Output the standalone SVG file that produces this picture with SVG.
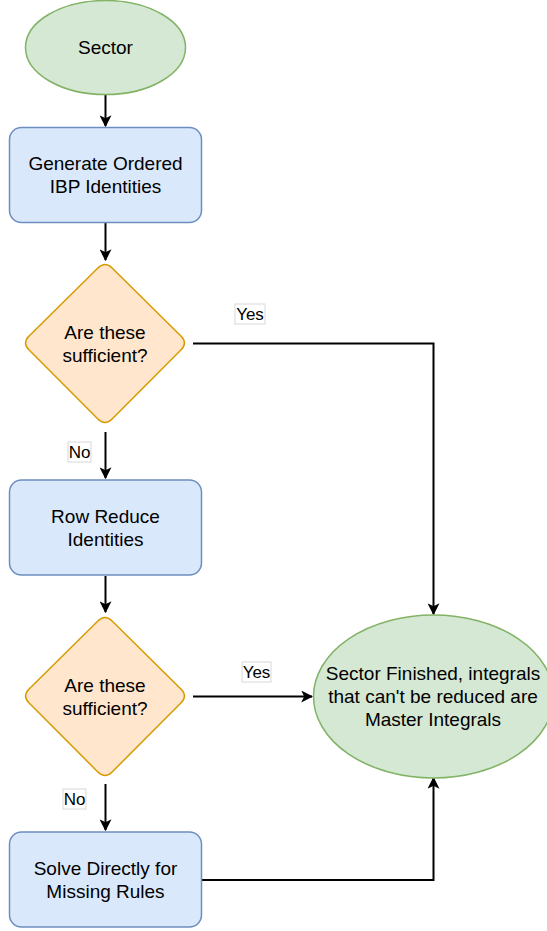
<svg xmlns="http://www.w3.org/2000/svg" width="547" height="931" viewBox="0 0 547 931">
<style>
text{font-family:"Liberation Sans",Helvetica,Arial,sans-serif;fill:#000;text-anchor:middle}
.t{font-size:19px}
.l{font-size:17px}
.green{fill:#d5e8d4;stroke:#82b366;stroke-width:1.5}
.blue{fill:#dae8fc;stroke:#6c8ebf;stroke-width:1.5}
.orange{fill:#ffe6cc;stroke:#d79b00;stroke-width:1.5}
.c{fill:none;stroke:#000;stroke-width:2}
.lb{fill:#fff;stroke:#d8d8d8;stroke-width:1}
</style>
<defs>
<marker id="ah" viewBox="0 0 10 10" refX="9" refY="5" markerWidth="6" markerHeight="6" markerUnits="strokeWidth" orient="auto">
<path d="M0,0 L10,5 L0,10 L2.5,5 Z" fill="#000"/>
</marker>
</defs>
<g id="connectors">
<path class="c" d="M105.5,95 V126" marker-end="url(#ah)"/>
<path class="c" d="M105.5,223 V260" marker-end="url(#ah)"/>
<path class="c" d="M105.5,432 V478" marker-end="url(#ah)"/>
<path class="c" d="M105.5,576 V612" marker-end="url(#ah)"/>
<path class="c" d="M105.5,784 V830" marker-end="url(#ah)"/>
<path class="c" d="M193,343.5 H433.5 V614" marker-end="url(#ah)"/>
<path class="c" d="M193,696.5 H312" marker-end="url(#ah)"/>
<path class="c" d="M202,880 H433.5 V778" marker-end="url(#ah)"/>
<g id="label-yes1"><rect class="lb" x="235" y="304" width="30" height="20"/><text class="l" x="250" y="320">Yes</text></g>
<g id="label-no1"><rect class="lb" x="68" y="442" width="23" height="20"/><text class="l" x="79.5" y="458">No</text></g>
<g id="label-yes2"><rect class="lb" x="242" y="662" width="29" height="20"/><text class="l" x="256.5" y="678">Yes</text></g>
<g id="label-no2"><rect class="lb" x="63" y="789" width="23" height="20"/><text class="l" x="74.5" y="805">No</text></g>
</g>
<g id="sector">
<ellipse class="green" cx="105.5" cy="47.5" rx="80" ry="47"/>
<text class="t" x="105.5" y="54">Sector</text>
</g>
<g id="generate">
<rect class="blue" x="9.5" y="127.5" width="192" height="95" rx="12"/>
<text class="t" x="105.5" y="170">Generate Ordered</text>
<text class="t" x="105.5" y="193">IBP Identities</text>
</g>
<g id="decision1">
<path class="orange" d="M97.9,268 Q105,261 112.1,268 L180.9,336 Q188,343 180.9,350 L112.1,419 Q105,426 97.9,419 L29.1,350 Q22,343 29.1,336 Z"/>
<text class="t" x="105" y="339">Are these</text>
<text class="t" x="105" y="362">sufficient?</text>
</g>
<g id="rowreduce">
<rect class="blue" x="9.5" y="480" width="192" height="95" rx="12"/>
<text class="t" x="105.5" y="523">Row Reduce</text>
<text class="t" x="105.5" y="546">Identities</text>
</g>
<g id="decision2">
<path class="orange" d="M97.9,621 Q105,614 112.1,621 L180.9,689 Q188,696 180.9,703 L112.1,772 Q105,779 97.9,772 L29.1,703 Q22,696 29.1,689 Z"/>
<text class="t" x="105" y="692">Are these</text>
<text class="t" x="105" y="715">sufficient?</text>
</g>
<g id="solve">
<rect class="blue" x="9.5" y="832" width="192" height="95" rx="12"/>
<text class="t" x="105.5" y="875">Solve Directly for</text>
<text class="t" x="105.5" y="898">Missing Rules</text>
</g>
<g id="finished">
<ellipse class="green" cx="433.5" cy="696.5" rx="120" ry="81.5"/>
<text class="t" x="433" y="680">Sector Finished, integrals</text>
<text class="t" x="433" y="703">that can't be reduced are</text>
<text class="t" x="433" y="726">Master Integrals</text>
</g>
</svg>
